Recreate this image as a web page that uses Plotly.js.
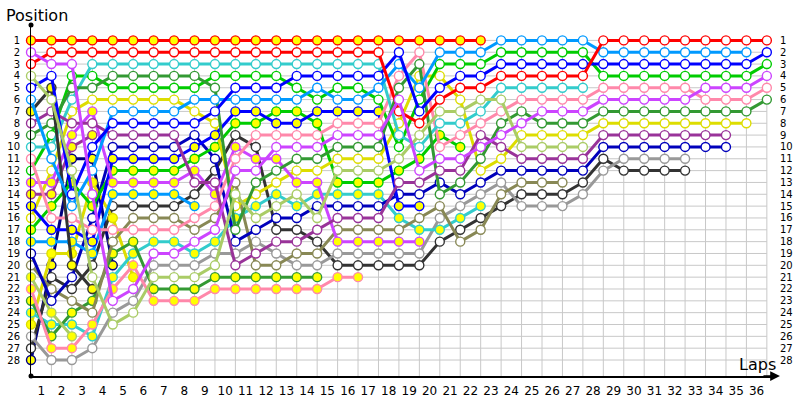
<!DOCTYPE html>
<html><head><meta charset="utf-8">
<script src="https://cdn.plot.ly/plotly-3.0.1.min.js"></script>
<style>html,body{margin:0;padding:0;background:#fff}#chart{width:800px;height:400px}</style>
</head><body><div id="chart"></div>
<script>
// ---- data: position at each lap (index = lap, 0 = grid) ----
const lapLabels = ['1','2','3','4','5','6','7','8','9','10','11','12','13','14','15','16','17','18','19','20','21','22','23','24','25','26','27','28','29','30','31','32','33','34','35','36'];
const positionLabels = [1,2,3,4,5,6,7,8,9,10,11,12,13,14,15,16,17,18,19,20,21,22,23,24,25,26,27,28];

const redY  = [1,1,1,1,1,1,1,1,1,1,1,1,1,1,1,1,1,1,1,1,1,1,1];
const redW  = [3,2,2,2,2,2,2,2,2,2,2,2,2,2,2,2,2,2,7,8,6,5,5,4,4,4,4,4,1,1,1,1,1,1,1,1,1];
const cyanW = [10,10,6,3,3,3,3,3,3,3,3,3,3,3,3,3,3,3,9,10,8,8,7,5,5,5,5,5];
const dgrW  = [9,8,5,5,4,4,4,4,4,5,17,13,12,11,11,10,10,10,5,3,14,13,11,8,7,8,8,8,7,7,7,7,7,7,7,7,6];
const grnW  = [12,9,4,4,5,5,5,5,5,4,4,4,4,5,6,5,5,6,10,6,3,3,3,2,2,2,2,2,4,4,4,4,4,4,4,4,3];
const yelW  = [16,12,7,6,6,6,6,6,7,8,15,14,13,12,12,11,11,11,8,4,4,6,12,11,9,9,9,9,8,8,8,8,8,8,8,8];
const skyW  = [6,11,15,12,7,7,7,7,6,6,6,6,6,6,5,6,6,5,3,5,2,2,2,1,1,1,1,1,2,2,2,2,2,2,2,2];
const blueW = [5,4,14,10,8,8,8,8,8,7,5,5,5,4,4,4,4,4,2,7,5,4,4,3,3,3,3,3,3,3,3,3,3,3,3,3,2];
const purW  = [8,7,8,8,9,9,9,9,13,13,20,19,18,18,17,16,16,16,13,13,12,12,9,10,11,11,11,11,9,9,9,9,9,9,9];
const dblW  = [19,23,21,16,10,10,10,10,9,11,18,17,16,16,15,15,15,15,14,14,13,14,13,12,12,12,12,12,10,10,10,10,10,10,10];
const blueY = [15,17,17,18,11,11,11,11,10,9,7,7,8,8,7,7,7,7,15,15];
const grnY  = [17,15,13,15,12,12,12,12,11,10,8,8,7,7,8,13,13,13,12,11,9,10];
const vioY  = [13,13,9,7,13,13,13,13,12,14,10,11,11,13,13,18,18,18,18,18];
const skyY  = [18,18,18,19,14,14,14,14,15];
const blkW  = [27,21,22,20,15,15,15,15,14,12,9,10,17,17,18,20,20,20,20,20,18,17,16,15,14,14,14,13,11,12,12,12,12];
const pinkW = [11,16,16,17,17,17,17,17,16,15,11,9,9,9,9,8,8,8,4,2,10,9,8,7,6,6,6,6,5,5,5,5,5,6,6,6,5];
const oliW  = [20,22,23,24,18,16,16,16,17,16,13,20,20,19,19,17,17,17,17,16,15,18,17,14,13,13,13];
const cyanY = [24,25,25,26,21,19,18,18,19,18,16,15,14,15,14,14,14,14,16,17,17,16,15];
const dgrY  = [23,26,24,23,19,18,22,22,22,21,21,21,21,21,21];
const pinkY = [22,27,27,25,22,20,23,23,23,22,22,22,22,22,22,21,21];
const gryW  = [26,28,28,27,24,23,20,20,20,19,19,18,19,20,20,19,19,19,19,19,16,15,14,13,15,15,15,14,12,11,11,11,11];
const limeW = [4,6,12,21,25,24,21,21,21,20,14,16,15,14,16,12,12,12,11,9,7,7,6,6,10,10,10,10];
const vioW  = [2,3,3,14,23,22,19,19,18,17,12,12,10,10,10,9,9,9,6,12,11,11,10,9,8,7,7,7,6,6,6,6,6,5,5,5,4];
const blkY  = [7,5,20,22];
const yelY  = [25,19,19,13,16,21];
const purY  = [14,14,10,9];
const navY  = [28,20,11,11,20];
const limeY = [21,24,26];

// ---- styles ----
const C = {red:'#ff0000', violet:'#cc44ff', lime:'#aacc66', blue:'#0000ff', sky:'#0099ff', black:'#333333',
  purple:'#993399', dgreen:'#339933', cyan:'#33cccc', pink:'#ff88aa', green:'#00cc00', yellow:'#dddd00',
  gray:'#999999', olive:'#888855', dblue:'#0000bb', navy:'#000080'};
const W = '#ffffff', Y = '#ffff00';
const drivers = [
  [redY,C.red,Y],[vioW,C.violet,W],[redW,C.red,W],[limeW,C.lime,W],[blueW,C.blue,W],[skyW,C.sky,W],[blkY,C.black,Y],
  [purW,C.purple,W],[dgrW,C.dgreen,W],[cyanW,C.cyan,W],[pinkW,C.pink,W],[grnW,C.green,W],[vioY,C.violet,Y],[purY,C.purple,Y],
  [blueY,C.blue,Y],[yelW,C.yellow,W],[grnY,C.green,Y],[skyY,C.sky,Y],[dblW,C.dblue,W],[oliW,C.olive,W],[limeY,C.lime,Y],
  [pinkY,C.pink,Y],[dgrY,C.dgreen,Y],[cyanY,C.cyan,Y],[yelY,C.yellow,Y],[gryW,C.gray,W],[blkW,C.black,W],[navY,C.navy,Y]
];

const traces = [];
for (let i = drivers.length - 1; i >= 0; i--) {
  const [pos, col, fill] = drivers[i];
  traces.push({
    x: pos.map((_, k) => k), y: pos, type: 'scatter', mode: 'lines+markers',
    line: {color: col, width: 3}, marker: {size: 9, color: fill, line: {color: col, width: 1.4}},
    showlegend: false, hoverinfo: 'skip', cliponaxis: false
  });
}
const yTop = -0.3, yBot = 29.35, xMax = 36.35;
traces.push({x:[0,0], y:[yTop,yBot], mode:'markers', marker:{size:5,color:'#000'}, showlegend:false, hoverinfo:'skip', cliponaxis:false});
traces.push({x:[0], y:[1], xaxis:'x2', yaxis:'y2', mode:'markers', marker:{opacity:0}, showlegend:false, hoverinfo:'skip'});

const lapTicks = lapLabels.map((_, k) => k + 1);
const shapes = [];
lapTicks.forEach(l => shapes.push({type:'line', layer:'below', xref:'x', yref:'y', x0:l, x1:l, y0:1, y1:yBot, line:{color:'#c8c8c8', width:1}}));
positionLabels.forEach(p => shapes.push({type:'line', layer:'below', xref:'x', yref:'y', x0:0, x1:36, y0:p, y1:p, line:{color:'#c8c8c8', width:1}}));

const font = 'DejaVu Sans, Verdana, sans-serif';
const layout = {
  width: 800, height: 400,
  margin: {l: 31, r: 25.6, t: 24.6, b: 24},
  paper_bgcolor: '#fff', plot_bgcolor: '#fff',
  font: {family: font, color: '#000'},
  xaxis: {range: [0, xMax], showgrid: false, zeroline: false, showline: true, linecolor: '#000', linewidth: 2,
          showticklabels: false, ticks: '', fixedrange: true},
  xaxis2: {overlaying: 'x', anchor: 'y', side: 'bottom', range: [0, xMax], showgrid: false, zeroline: false, showline: false,
           tickvals: lapTicks.map(l => l - 0.5), ticktext: lapLabels, ticks: 'outside', ticklen: 4, tickcolor: 'rgba(0,0,0,0)',
           tickfont: {size: 12, family: font}},
  yaxis: {range: [yBot, yTop], showgrid: false, zeroline: false, showline: true, linecolor: '#000', linewidth: 1,
          tickvals: positionLabels, ticks: 'outside', ticklen: 8, tickcolor: 'rgba(0,0,0,0)', tickfont: {size: 10, family: font}},
  yaxis2: {overlaying: 'y', anchor: 'x', side: 'right', range: [yBot, yTop], showgrid: false, zeroline: false, showline: false,
           tickvals: positionLabels, ticks: 'outside', ticklen: 3, tickcolor: 'rgba(0,0,0,0)', tickfont: {size: 10, family: font}},
  shapes: shapes,
  annotations: [
    {xref: 'paper', yref: 'paper', x: -0.036, y: 1.028, text: 'Position', showarrow: false, xanchor: 'left', yanchor: 'middle', font: {size: 16, family: font}},
    {xref: 'x', yref: 'y', x: 35.55, y: 28.35, text: 'Laps', showarrow: false, xanchor: 'center', yanchor: 'middle', font: {size: 16, family: font}},
    {xref: 'paper', yref: 'paper', x: 1.008, y: 0, ax: -18, ay: 0, axref: 'pixel', ayref: 'pixel', text: '', showarrow: true,
     arrowhead: 2, arrowsize: 1.3, arrowwidth: 1.5, arrowcolor: '#000'}
  ]
};
Plotly.newPlot('chart', traces, layout, {staticPlot: true, displayModeBar: false});
</script></body></html>
